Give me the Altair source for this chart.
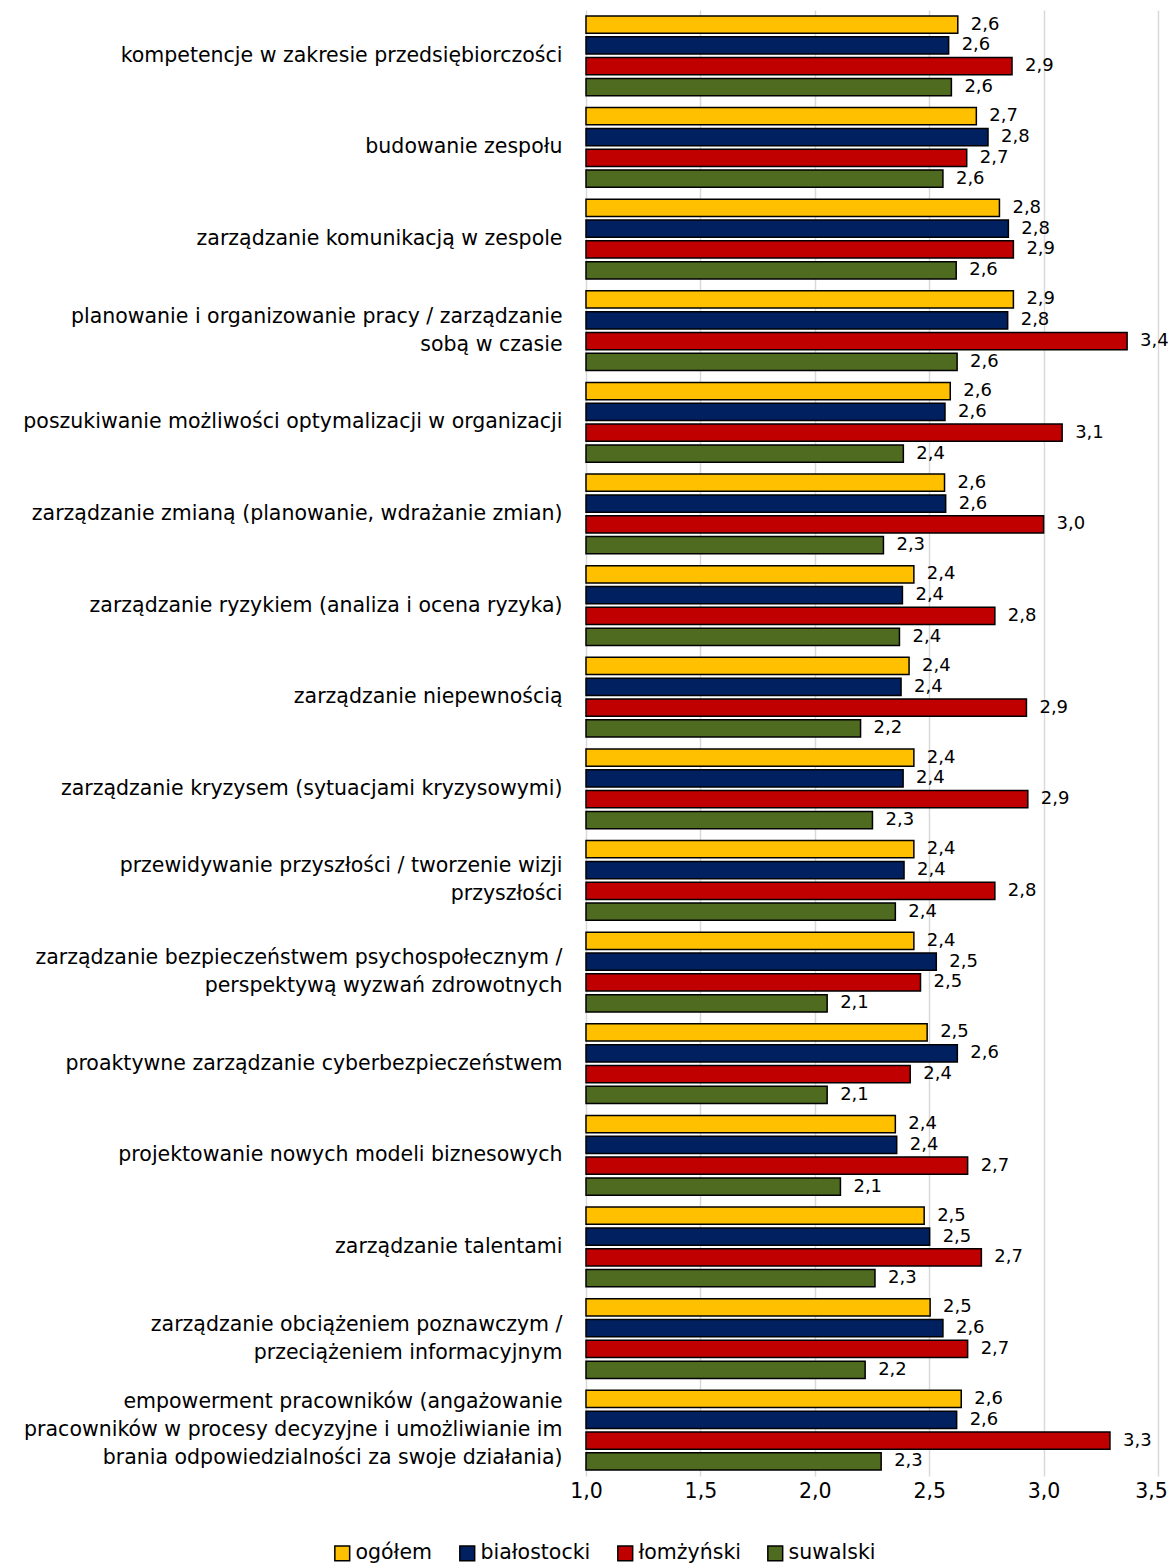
import altair as alt
import pandas as pd

categories = [
    "kompetencje w zakresie przedsiębiorczości",
    "budowanie zespołu",
    "zarządzanie komunikacją w zespole",
    "planowanie i organizowanie pracy / zarządzanie|sobą w czasie",
    "poszukiwanie możliwości optymalizacji w organizacji",
    "zarządzanie zmianą (planowanie, wdrażanie zmian)",
    "zarządzanie ryzykiem (analiza i ocena ryzyka)",
    "zarządzanie niepewnością",
    "zarządzanie kryzysem (sytuacjami kryzysowymi)",
    "przewidywanie przyszłości / tworzenie wizji|przyszłości",
    "zarządzanie bezpieczeństwem psychospołecznym /|perspektywą wyzwań zdrowotnych",
    "proaktywne zarządzanie cyberbezpieczeństwem",
    "projektowanie nowych modeli biznesowych",
    "zarządzanie talentami",
    "zarządzanie obciążeniem poznawczym /|przeciążeniem informacyjnym",
    "empowerment pracowników (angażowanie|pracowników w procesy decyzyjne i umożliwianie im|brania odpowiedzialności za swoje działania)",
]

series = ["ogółem", "białostocki", "łomżyński", "suwalski"]

ogolem = [2.625, 2.706, 2.807, 2.868, 2.592, 2.567, 2.433, 2.412,
          2.433, 2.433, 2.433, 2.491, 2.352, 2.478, 2.504, 2.64]
bialostocki = [2.585, 2.757, 2.846, 2.843, 2.569, 2.572, 2.383, 2.377,
               2.386, 2.39, 2.531, 2.623, 2.358, 2.502, 2.56, 2.62]
lomzynski = [2.862, 2.664, 2.868, 3.365, 3.081, 3.0, 2.787, 2.925,
             2.931, 2.787, 2.462, 2.417, 2.668, 2.728, 2.668, 3.29]
suwalski = [2.597, 2.56, 2.618, 2.622, 2.387, 2.30, 2.37, 2.20,
            2.252, 2.352, 2.054, 2.054, 2.112, 2.263, 2.22, 2.29]

colors = ["#FFC000", "#002060", "#C00000", "#4F6B20"]
x_ticks = [1.0, 1.5, 2.0, 2.5, 3.0, 3.5]

rows = []
for i, c in enumerate(categories):
    for s, vals in zip(series, [ogolem, bialostocki, lomzynski, suwalski]):
        rows.append({"category": c, "series": s, "value": vals[i]})
df = pd.DataFrame(rows)

FONT = "DejaVu Sans"
LINE_H = 28
nlines = "length(split(datum.value, '|'))"

y_enc = alt.Y(
    "category:N",
    sort=categories,
    scale=alt.Scale(paddingInner=0.13, paddingOuter=0.065),
    axis=alt.Axis(
        title=None,
        labelExpr="split(datum.label, '|')",
        labelFontSize=20.5,
        labelLineHeight=LINE_H,
        labelPadding=24,
        labelLimit=700,
        ticks=False,
        domain=False,
        labelColor="#000000",
        labelFont=FONT,
        labelAlign="right",
        labelOffset={
            "condition": [
                {"test": f"{nlines} == 3", "value": -LINE_H},
                {"test": f"{nlines} == 2", "value": -LINE_H / 2},
            ],
            "value": 0,
        },
    ),
)
yoff_enc = alt.YOffset(
    "series:N", sort=series, scale=alt.Scale(paddingInner=0.17, paddingOuter=0)
)
x_enc = alt.X(
    "value:Q",
    scale=alt.Scale(domain=[1, 3.5], nice=False, zero=False),
    axis=alt.Axis(
        title=None,
        values=x_ticks,
        labelExpr="replace(format(datum.value, '.1f'), '.', ',')",
        labelFlush=False,
        labelOffset={"condition": {"test": "datum.value >= 3.5", "value": -7}, "value": 0},
        grid=True,
        gridColor="#D9D9D9",
        gridWidth=1.5,
        ticks=False,
        domain=False,
        labelPadding=5,
        labelFontSize=20.5,
        labelFont=FONT,
        labelColor="#000000",
    ),
)
color_enc = alt.Color(
    "series:N",
    sort=series,
    scale=alt.Scale(domain=series, range=colors),
    legend=alt.Legend(
        title=None,
        orient="none",
        legendX=-254,
        legendY=1533,
        direction="horizontal",
        columns=4,
        symbolType="square",
        symbolSize=220,
        symbolStrokeColor="#000000",
        symbolStrokeWidth=1.5,
        labelFontSize=20.5,
        labelFont=FONT,
        labelColor="#000000",
        labelOffset=3,
        columnPadding=23,
    ),
)

bars = alt.Chart(df).mark_bar(stroke="#000000", strokeWidth=1.5).encode(
    y=y_enc, yOffset=yoff_enc, x=x_enc, x2=alt.datum(1), color=color_enc
)

labels = (
    alt.Chart(df)
    .transform_calculate(label="replace(format(datum.value, '.1f'), '.', ',')")
    .mark_text(align="left", baseline="middle", dx=13, fontSize=18, font=FONT, color="#000000")
    .encode(
        y=alt.Y("category:N", sort=categories),
        yOffset=alt.YOffset("series:N", sort=series),
        x=alt.X("value:Q"),
        text="label:N",
    )
)

chart = (
    alt.layer(bars, labels)
    .properties(
        width=572,
        height=1466,
        autosize=alt.AutoSizeParams(type="none"),
        padding={"left": 578, "top": 2, "right": 10, "bottom": 88},
        background="white",
    )
    .configure_view(stroke=None)
)

chart.save("out.html", embed_options={"renderer": "svg", "actions": False})
